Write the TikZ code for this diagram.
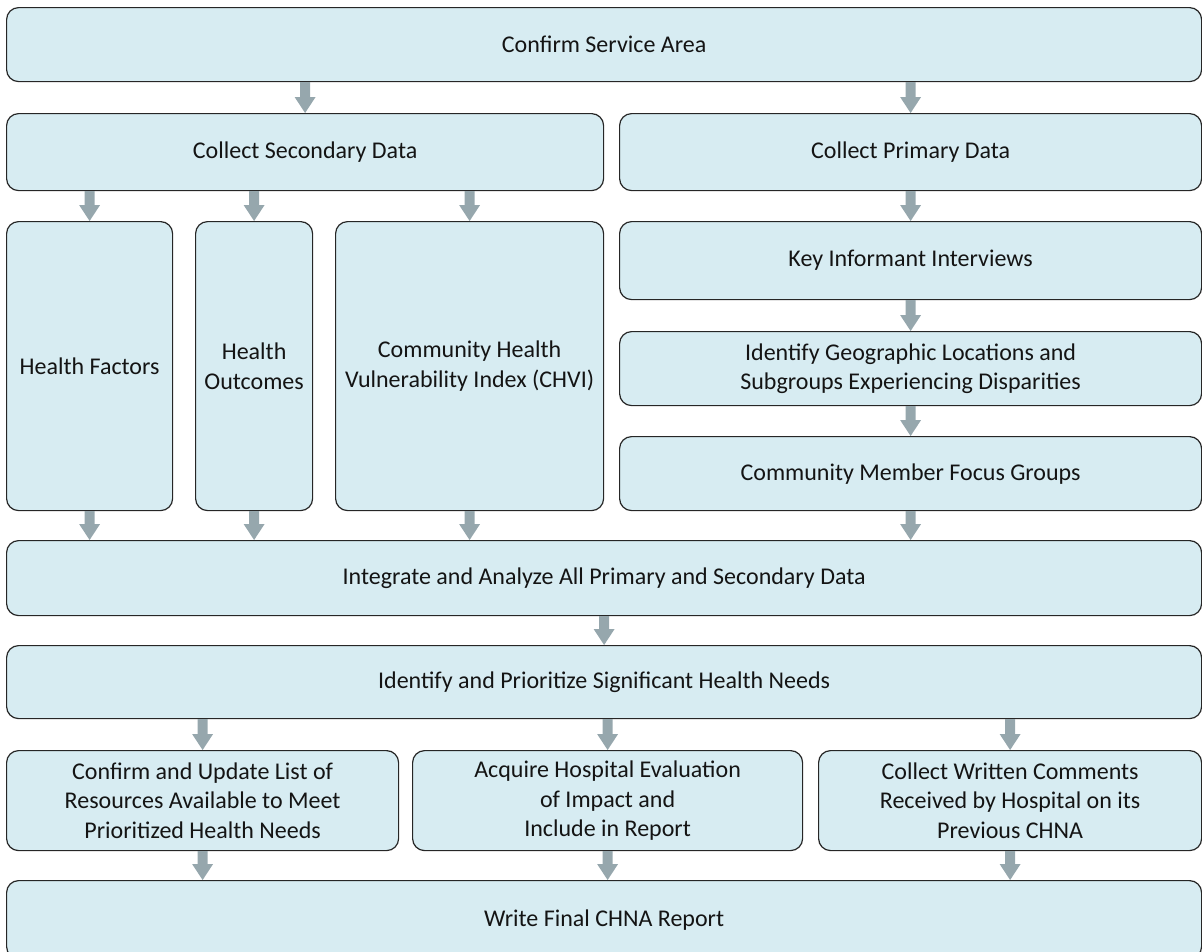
\documentclass[tikz,border=0pt]{standalone}
\usepackage{fontspec}
\setmainfont{Carlito}
\usetikzlibrary{calc}
\definecolor{boxfill}{RGB}{215,236,242}
\definecolor{arrowc}{RGB}{150,167,173}
\definecolor{txt}{RGB}{20,20,20}
\tikzset{
  box/.style={draw=black!85, line width=1.2pt, fill=boxfill, rounded corners=12pt,
    anchor=north west, align=center, inner sep=0pt, text=txt,
    font=\fontsize{24}{29.5}\selectfont},
}
\newcommand\varrow[2]{%
  \fill[arrowc] let \p1=(#1), \p2=(#2) in
    (\x1-5pt,\y1) -- (\x1+5pt,\y1) -- (\x1+5pt,\y2+16pt) -- (\x1+10.5pt,\y2+16pt)
    -- (\x1,\y2) -- (\x1-10.5pt,\y2+16pt) -- (\x1-5pt,\y2+16pt) -- cycle;}
\begin{document}
\begin{tikzpicture}[x=1pt,y=-1pt]
\useasboundingbox (0,0) rectangle (1202,951);
\clip (0,0) rectangle (1202,951);
% row 1
\node[box, minimum width=1195pt, minimum height=74pt] (csa) at (6,7) {Confirm Service Area};
% row 2
\node[box, minimum width=597pt, minimum height=77pt] (sec) at (6,113) {Collect Secondary Data};
\node[box, minimum width=582pt, minimum height=77pt] (pri) at (619,113) {Collect Primary Data};
% row 3
\node[box, minimum width=166pt, minimum height=289pt] (hf) at (6,221) {Health Factors};
\node[box, minimum width=117pt, minimum height=289pt] (ho) at (195,221) {Health\\Outcomes};
\node[box, minimum width=268pt, minimum height=289pt] (chvi) at (335,221) {Community Health\\Vulnerability Index (CHVI)};
\node[box, minimum width=582pt, minimum height=78pt] (kii) at (619,221) {Key Informant Interviews};
\node[box, minimum width=582pt, minimum height=74pt] (igl) at (619,331) {Identify Geographic Locations and\\Subgroups Experiencing Disparities};
\node[box, minimum width=582pt, minimum height=74pt] (cmf) at (619,436) {Community Member Focus Groups};
% integrate
\node[box, minimum width=1195pt, minimum height=75pt] (int) at (6,540) {Integrate and Analyze All Primary and Secondary Data};
\node[box, minimum width=1195pt, minimum height=73pt] (ipr) at (6,645) {Identify and Prioritize Significant Health Needs};
% row of three
\node[box, minimum width=392pt, minimum height=100pt] (cul) at (6,750) {Confirm and Update List of\\Resources Available to Meet\\Prioritized Health Needs};
\node[box, minimum width=390pt, minimum height=100pt] (ahe) at (412,750) {Acquire Hospital Evaluation\\of Impact and\\Include in Report};
\node[box, minimum width=383pt, minimum height=100pt] (cwc) at (818,750) {Collect Written Comments\\Received by Hospital on its\\Previous CHNA};
\node[box, minimum width=1195pt, minimum height=78pt] (wfr) at (6,880) {Write Final CHNA Report};
% arrows
\varrow{csa.south -| sec.north}{sec.north}
\varrow{csa.south -| pri.north}{pri.north}
\varrow{sec.south -| hf.north}{hf.north}
\varrow{sec.south -| ho.north}{ho.north}
\varrow{sec.south -| chvi.north}{chvi.north}
\varrow{pri.south}{kii.north}
\varrow{kii.south}{igl.north}
\varrow{igl.south}{cmf.north}
\varrow{hf.south}{hf.south |- int.north}
\varrow{ho.south}{ho.south |- int.north}
\varrow{chvi.south}{chvi.south |- int.north}
\varrow{cmf.south}{cmf.south |- int.north}
\varrow{int.south}{ipr.north}
\varrow{ipr.south -| cul.north}{cul.north}
\varrow{ipr.south -| ahe.north}{ahe.north}
\varrow{ipr.south -| cwc.north}{cwc.north}
\varrow{cul.south}{cul.south |- wfr.north}
\varrow{ahe.south}{ahe.south |- wfr.north}
\varrow{cwc.south}{cwc.south |- wfr.north}
\end{tikzpicture}
\end{document}
